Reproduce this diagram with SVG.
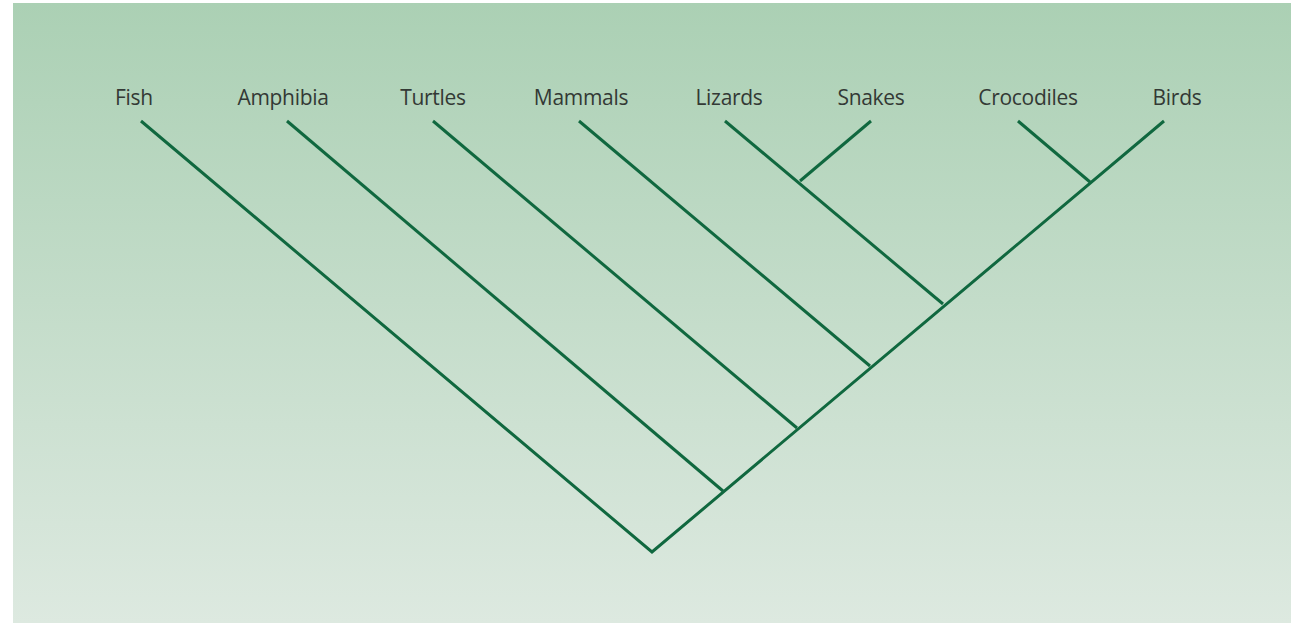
<svg xmlns="http://www.w3.org/2000/svg" width="1291" height="623" viewBox="0 0 1291 623">
<defs>
<linearGradient id="bg" x1="0" y1="0" x2="0" y2="1">
<stop offset="0" stop-color="#abd0b4"/>
<stop offset="1" stop-color="#dde9e0"/>
</linearGradient>
<style>
.lbl{font-family:"Open Sans","Noto Sans","Liberation Sans",sans-serif;font-size:21px;font-weight:500;fill:#333935;text-anchor:middle;letter-spacing:-0.3px}
.br{stroke:#10683f;stroke-width:3;fill:none;stroke-linecap:butt;stroke-linejoin:miter}
</style>
</defs>
<rect x="0" y="0" width="1291" height="623" fill="#ffffff"/>
<rect x="13" y="3" width="1278" height="620" fill="url(#bg)"/>
<g id="labels">
<g id="fish"><text class="lbl" x="134" y="105">Fish</text></g>
<g id="amphibia"><text class="lbl" x="283" y="105">Amphibia</text></g>
<g id="turtles"><text class="lbl" x="433" y="105">Turtles</text></g>
<g id="mammals"><text class="lbl" x="581" y="105">Mammals</text></g>
<g id="lizards"><text class="lbl" x="729" y="105">Lizards</text></g>
<g id="snakes"><text class="lbl" x="871" y="105">Snakes</text></g>
<g id="crocodiles"><text class="lbl" x="1028" y="105">Crocodiles</text></g>
<g id="birds"><text class="lbl" x="1177" y="105">Birds</text></g>
</g>
<g id="connectors" class="br">
<path d="M141,121 L652,552 L1164,121"/>
<path d="M287,121 L723,491"/>
<path d="M433,121 L797,428"/>
<path d="M579,121 L870,366"/>
<path d="M725,121 L943,304"/>
<path d="M871,121 L800,181"/>
<path d="M1018,121 L1090,182"/>
</g>
</svg>
